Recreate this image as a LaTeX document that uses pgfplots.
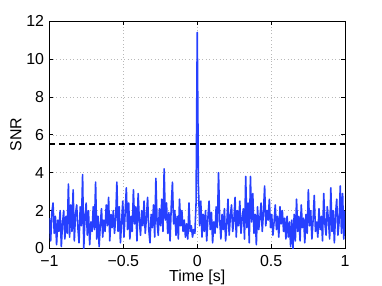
\documentclass[border=0pt]{standalone}
\usepackage{fontspec}
\setmainfont{Liberation Sans}
\usepackage{pgfplots}
\pgfplotsset{compat=1.18}
\definecolor{snrblue}{rgb}{0.15,0.25,1}
\begin{document}
\fontsize{16}{19}\selectfont
\begin{tikzpicture}
\path[use as bounding box] (-49.5bp,-37.5bp) rectangle (332.5bp,248.5bp);
\begin{axis}[
  at={(0,0)}, anchor=south west,
  scale only axis, width=295.5bp, height=227.5bp,
  xmin=-1, xmax=1, ymin=0, ymax=12,
  xtick={-1,-0.5,0,0.5,1},
  xticklabels={−1,−0.5,0,0.5,1},
  ytick={0,2,4,6,8,10,12},
  /pgf/number format/assume math mode=true,
  tick label style={font=\fontsize{16}{19}\selectfont},
  xticklabel style={yshift=-1.5bp},
  label style={font=\fontsize{16}{19}\selectfont},
  xlabel={Time [s]}, ylabel={SNR},
  xlabel style={yshift=7.5bp},
  ylabel style={yshift=-6bp},
  grid=major,
  major grid style={gray!55, line width=0.45pt, dash pattern=on 0.8bp off 2.6bp},
  tick align=inside, major tick length=4bp,
  axis line style={line width=0.5pt},
  tick style={black, line width=0.5pt},
  xtick pos=both, ytick pos=both,
  clip=true,
]
\addplot[color=snrblue, line width=1.6pt, line join=round] coordinates {
(-1.000,1.6) (-0.992,0.4) (-0.984,1.9) (-0.976,2.4) (-0.968,0.8) (-0.960,1.7) (-0.952,0.2) (-0.944,1.5) (-0.936,0.9) (-0.928,2.0)
(-0.920,0.1) (-0.912,1.3) (-0.904,2.0) (-0.896,0.5) (-0.888,1.7) (-0.880,0.8) (-0.872,3.4) (-0.864,0.6) (-0.856,2.3) (-0.848,0.9)
(-0.840,3.1) (-0.832,0.4) (-0.824,1.8) (-0.816,2.3) (-0.808,1.1) (-0.800,0.3) (-0.792,2.2) (-0.784,1.2) (-0.776,3.9) (-0.768,0.0)
(-0.760,1.6) (-0.752,2.4) (-0.744,0.7) (-0.736,2.0) (-0.728,0.2) (-0.720,1.4) (-0.712,0.9) (-0.704,2.2) (-0.696,1.0) (-0.688,3.5)
(-0.680,0.5) (-0.672,1.7) (-0.664,0.1) (-0.656,1.3) (-0.648,2.1) (-0.640,0.6) (-0.632,1.5) (-0.624,0.9) (-0.616,2.3) (-0.608,1.2)
(-0.600,2.7) (-0.592,0.4) (-0.584,1.8) (-0.576,1.1) (-0.568,2.0) (-0.560,0.8) (-0.552,1.6) (-0.544,3.5) (-0.536,0.9) (-0.528,2.2)
(-0.520,0.3) (-0.512,1.4) (-0.504,2.5) (-0.496,0.6) (-0.488,1.9) (-0.480,3.2) (-0.472,1.0) (-0.464,2.4) (-0.456,0.5) (-0.448,1.7)
(-0.440,0.9) (-0.432,3.1) (-0.424,1.3) (-0.416,2.2) (-0.408,0.4) (-0.400,2.9) (-0.392,1.5) (-0.384,0.7) (-0.376,2.0) (-0.368,1.2)
(-0.360,2.5) (-0.352,0.8) (-0.344,1.6) (-0.336,2.7) (-0.328,1.0) (-0.320,0.3) (-0.312,1.8) (-0.304,1.1) (-0.296,2.3) (-0.288,0.6)
(-0.280,3.7) (-0.272,1.4) (-0.264,0.7) (-0.256,2.1) (-0.248,1.2) (-0.240,2.6) (-0.232,0.9) (-0.224,4.2) (-0.216,1.5) (-0.208,2.4)
(-0.200,0.8) (-0.192,1.9) (-0.184,0.4) (-0.176,2.2) (-0.168,3.5) (-0.160,1.3) (-0.152,2.0) (-0.144,0.7) (-0.136,1.7) (-0.128,0.5)
(-0.120,2.6) (-0.112,1.2) (-0.104,2.0) (-0.096,0.9) (-0.088,1.5) (-0.080,0.6) (-0.072,1.3) (-0.064,0.5) (-0.056,2.4) (-0.048,0.9)
(-0.040,1.2) (-0.032,0.6) (-0.024,1.0) (-0.016,0.8) (-0.008,2.4) (0.000,11.4) (0.008,3.3) (0.016,1.2) (0.024,2.5) (0.032,0.6)
(0.040,1.8) (0.048,0.9) (0.056,2.0) (0.064,0.4) (0.072,1.6) (0.080,2.5) (0.088,1.0) (0.096,1.9) (0.104,0.3) (0.112,1.4)
(0.120,0.8) (0.128,2.2) (0.136,1.1) (0.144,4.0) (0.152,1.5) (0.160,0.5) (0.168,1.8) (0.176,1.0) (0.184,2.1) (0.192,0.4)
(0.200,1.3) (0.208,2.6) (0.216,0.7) (0.224,1.7) (0.232,2.3) (0.240,0.9) (0.248,1.5) (0.256,2.7) (0.264,0.6) (0.272,2.0)
(0.280,1.2) (0.288,2.5) (0.296,0.8) (0.304,1.6) (0.312,2.1) (0.320,0.5) (0.328,3.8) (0.336,1.1) (0.344,2.4) (0.352,0.3)
(0.360,3.8) (0.368,1.4) (0.376,2.9) (0.384,0.8) (0.392,1.8) (0.400,0.2) (0.408,2.2) (0.416,1.0) (0.424,1.6) (0.432,2.4)
(0.440,0.9) (0.448,1.9) (0.456,3.3) (0.464,1.2) (0.472,2.0) (0.480,1.5) (0.488,2.6) (0.496,1.1) (0.504,1.8) (0.512,0.7)
(0.520,1.4) (0.528,2.3) (0.536,1.0) (0.544,1.7) (0.552,0.6) (0.560,2.2) (0.568,1.3) (0.576,2.0) (0.584,0.9) (0.592,1.6)
(0.600,0.5) (0.608,1.7) (0.616,0.6) (0.624,1.4) (0.632,0.1) (0.640,1.5) (0.648,0.0) (0.656,1.8) (0.664,0.4) (0.672,2.6)
(0.680,0.9) (0.688,1.7) (0.696,0.4) (0.704,2.3) (0.712,1.1) (0.720,1.6) (0.728,0.3) (0.736,1.8) (0.744,0.8) (0.752,3.1)
(0.760,1.2) (0.768,2.0) (0.776,0.5) (0.784,1.5) (0.792,2.8) (0.800,0.9) (0.808,1.4) (0.816,0.6) (0.824,2.1) (0.832,1.0)
(0.840,1.7) (0.848,0.4) (0.856,2.9) (0.864,1.3) (0.872,0.7) (0.880,2.2) (0.888,1.5) (0.896,0.5) (0.904,3.2) (0.912,0.9)
(0.920,2.0) (0.928,0.3) (0.936,1.8) (0.944,2.6) (0.952,0.7) (0.960,1.4) (0.968,3.3) (0.976,0.8) (0.984,2.9) (0.992,0.5)
(1.000,2.0)
};
\addplot[black, line width=2pt, dash pattern=on 6bp off 4bp] coordinates {(-1,5.5) (1,5.5)};
\end{axis}
\end{tikzpicture}
\end{document}
